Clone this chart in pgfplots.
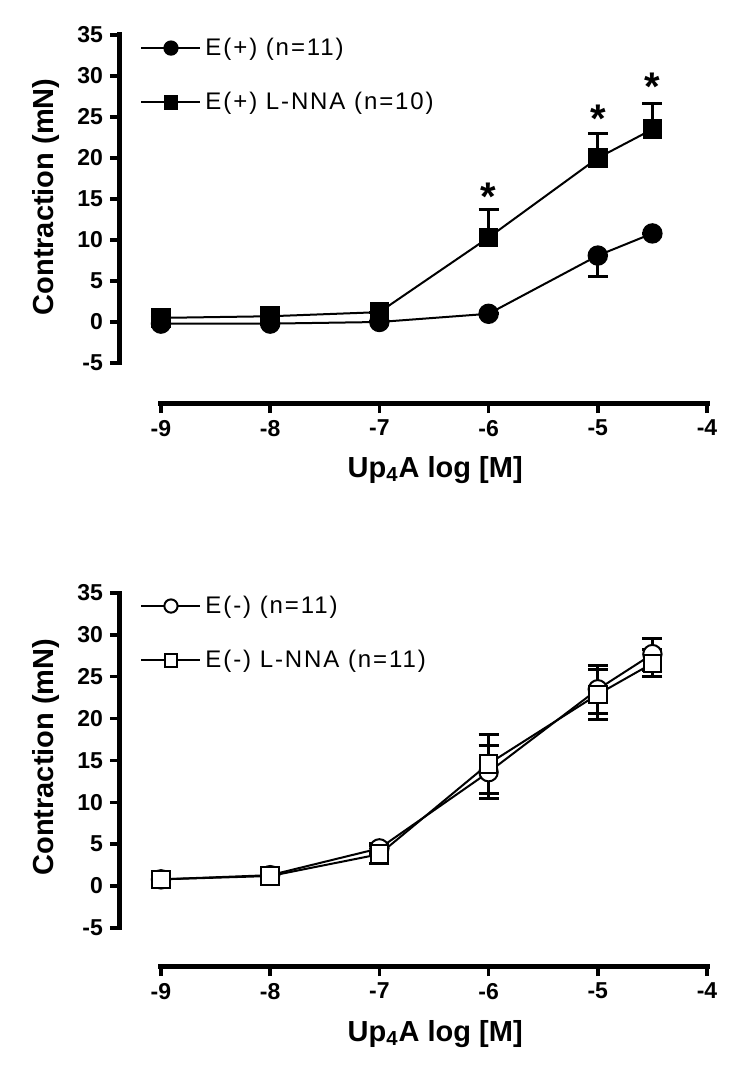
\documentclass[border=0pt]{standalone}
\usepackage{fontspec}
\setmainfont{Liberation Sans}
\usepackage{pgfplots}
\pgfplotsset{compat=1.18}
\pgfplotsset{
 prism/.style={
  scale only axis, width=293.5pt,
  xmin=-9.375, xmax=-4, ymax=35,
  axis lines*=left, axis line style={draw=none},
  clip=false,
  xtick={-9,-8,-7,-6,-5,-4}, xticklabels={-9,-8,-7,-6,-5,-4},
  ytick={-5,0,5,10,15,20,25,30,35}, yticklabels={-5,0,5,10,15,20,25,30,35},
  tick align=outside, major tick length=5pt,
  major tick style={black, line width=1.75pt},
  ticklabel style={font=\bfseries\fontsize{11.5}{13}\selectfont},
  xlabel={Up\textsubscript{4}A log [M]}, ylabel={Contraction (mN)},
  label style={font=\bfseries\fontsize{14.5}{16}\selectfont},
  xlabel style={at={(axis description cs:0.537,-0.182)}, anchor=center},
  ylabel style={at={(axis description cs:-0.126,0.56)}, anchor=center},
  legend style={draw=none, fill=none, at={(axis description cs:0.024,1.015)}, anchor=north west,
    font=\fontsize{12}{14}\selectfont\addfontfeature{LetterSpace=8}, row sep=13pt},
  legend cell align=left,
  legend image code/.code={\draw[mark repeat=2,mark phase=2,#1,every mark/.append style={scale=0.72}] plot coordinates {(0pt,0pt) (14.75pt,0pt) (29.5pt,0pt)};},
 },
 err/.style={error bars/.cd, y explicit, y dir=#1, error bar style={line width=1.5pt, black},
   error mark options={rotate=90, mark size=5pt, line width=1.5pt, black}},
 star/.style={draw=none, mark=none, nodes near coords={\textbf{*}},
   every node near coord/.style={font=\bfseries\fontsize{20}{20}\selectfont, anchor=north, inner sep=0pt}},
}
\begin{document}
\begin{tikzpicture}
% ---------- top panel ----------
\begin{axis}[prism, height=184pt, ymin=-9.88, at={(0,0)}, anchor=south west]
\addplot[black, line width=1pt, mark=*, mark size=4.6pt, mark options={solid, fill=black}, err=minus]
 coordinates {(-9,-0.2) +- (0,0) (-8,-0.2) +- (0,0) (-7,0.0) +- (0,0) (-6,1.0) +- (0,0) (-5,8.1) +- (0,2.6) (-4.5,10.8) +- (0,0)};
\addlegendentry{E(+) (n=11)}
\addplot[black, line width=1pt, mark=square*, mark size=4.4pt, mark options={solid, fill=black}, err=plus]
 coordinates {(-9,0.5) +- (0,0) (-8,0.7) +- (0,0) (-7,1.2) +- (0,0) (-6,10.3) +- (0,3.4) (-5,20.0) +- (0,3.0) (-4.5,23.5) +- (0,3.1)};
\addlegendentry{E(+) L-NNA (n=10)}
\addplot[star, forget plot] coordinates {(-6,17.0) (-5,26.5) (-4.5,30.4)};
\draw[line width=2.5pt, line cap=rect] (axis cs:-9,-9.88) -- (axis cs:-4,-9.88);
\draw[line width=2.5pt, line cap=rect] (axis cs:-9.375,-5) -- (axis cs:-9.375,35);
\end{axis}
% ---------- bottom panel ----------
\begin{axis}[prism, height=186.5pt, ymin=-9.55, at={(0,-281.5pt)}, anchor=south west]
\addplot[black, line width=1pt, mark=*, mark size=4.6pt, mark options={solid, fill=white}, err=both]
 coordinates {(-9,0.8) +- (0,0.3) (-8,1.3) +- (0,0.3) (-7,4.5) +- (0,0.6) (-6,13.6) +- (0,3.2) (-5,23.5) +- (0,2.9) (-4.5,27.7) +- (0,1.9)};
\addlegendentry{E(-) (n=11)}
\addplot[black, line width=1pt, mark=square*, mark size=4.4pt, mark options={solid, fill=white}, err=both]
 coordinates {(-9,0.8) +- (0,0.3) (-8,1.2) +- (0,0.3) (-7,3.8) +- (0,1.1) (-6,14.6) +- (0,3.5) (-5,22.9) +- (0,3.0) (-4.5,26.6) +- (0,1.6)};
\addlegendentry{E(-) L-NNA (n=11)}
\draw[line width=2.5pt, line cap=rect] (axis cs:-9,-9.55) -- (axis cs:-4,-9.55);
\draw[line width=2.5pt, line cap=rect] (axis cs:-9.375,-5) -- (axis cs:-9.375,35);
\end{axis}
\pgfresetboundingbox
\path (-60pt,-337pt) rectangle (315pt,201.5pt);
\end{tikzpicture}
\end{document}
